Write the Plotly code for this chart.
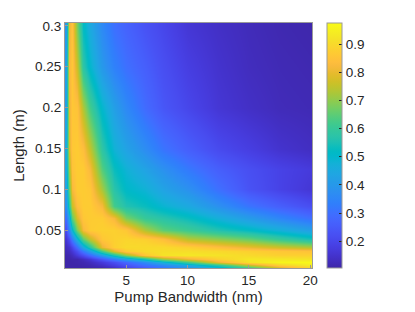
import plotly.graph_objects as go

# Pump bandwidth (nm) sample positions
bandwidth_nm = [0.1, 0.3, 0.6, 1.0, 1.5, 2.0, 3.0, 4.0, 5.0, 6.5, 8.0, 10.0, 12.5, 15.0, 17.5, 20.0]
# Crystal length (m) sample positions
length_m = [0.005, 0.008, 0.011, 0.015, 0.02, 0.025, 0.03, 0.04, 0.05, 0.065, 0.08, 0.1, 0.125, 0.15, 0.2, 0.25, 0.3]

# Values, one row per length
row_0005 = [0.105, 0.105, 0.105, 0.105, 0.105, 0.11, 0.12, 0.15, 0.2, 0.26, 0.32, 0.4, 0.5, 0.64, 0.8, 0.9]
row_0008 = [0.105, 0.105, 0.105, 0.105, 0.11, 0.115, 0.14, 0.18, 0.23, 0.3, 0.36, 0.45, 0.58, 0.75, 0.88, 0.94]
row_0011 = [0.105, 0.105, 0.105, 0.11, 0.115, 0.13, 0.17, 0.22, 0.28, 0.37, 0.48, 0.62, 0.8, 0.92, 0.96, 0.97]
row_0015 = [0.105, 0.105, 0.11, 0.11, 0.13, 0.16, 0.24, 0.33, 0.42, 0.55, 0.7, 0.8, 0.88, 0.93, 0.93, 0.92]
row_0020 = [0.11, 0.115, 0.13, 0.17, 0.22, 0.29, 0.42, 0.56, 0.7, 0.86, 0.92, 0.93, 0.92, 0.9, 0.88, 0.88]
row_0025 = [0.12, 0.13, 0.16, 0.22, 0.32, 0.42, 0.62, 0.78, 0.87, 0.9, 0.91, 0.91, 0.9, 0.88, 0.86, 0.85]
row_0030 = [0.13, 0.15, 0.2, 0.3, 0.45, 0.58, 0.8, 0.88, 0.9, 0.9, 0.9, 0.88, 0.84, 0.8, 0.76, 0.73]
row_0040 = [0.16, 0.22, 0.33, 0.48, 0.65, 0.75, 0.86, 0.88, 0.89, 0.88, 0.84, 0.74, 0.7, 0.66, 0.6, 0.55]
row_0050 = [0.22, 0.35, 0.5, 0.68, 0.82, 0.87, 0.88, 0.88, 0.86, 0.73, 0.65, 0.61, 0.56, 0.52, 0.47, 0.42]
row_0065 = [0.3, 0.45, 0.65, 0.78, 0.86, 0.87, 0.87, 0.82, 0.68, 0.6, 0.57, 0.53, 0.47, 0.41, 0.35, 0.3]
row_0080 = [0.38, 0.58, 0.76, 0.84, 0.87, 0.87, 0.82, 0.62, 0.56, 0.53, 0.49, 0.45, 0.38, 0.31, 0.26, 0.22]
row_0100 = [0.42, 0.66, 0.82, 0.87, 0.87, 0.86, 0.72, 0.57, 0.51, 0.48, 0.43, 0.38, 0.3, 0.23, 0.19, 0.16]
row_0125 = [0.45, 0.72, 0.85, 0.87, 0.87, 0.82, 0.64, 0.53, 0.48, 0.43, 0.38, 0.32, 0.26, 0.22, 0.19, 0.17]
row_0150 = [0.45, 0.78, 0.86, 0.87, 0.84, 0.75, 0.58, 0.48, 0.43, 0.37, 0.31, 0.26, 0.21, 0.18, 0.15, 0.135]
row_0200 = [0.42, 0.8, 0.86, 0.85, 0.73, 0.62, 0.5, 0.42, 0.36, 0.29, 0.24, 0.2, 0.16, 0.14, 0.125, 0.12]
row_0250 = [0.42, 0.82, 0.86, 0.76, 0.58, 0.5, 0.4, 0.34, 0.3, 0.26, 0.22, 0.18, 0.15, 0.13, 0.12, 0.115]
row_0300 = [0.4, 0.8, 0.85, 0.68, 0.52, 0.45, 0.36, 0.3, 0.27, 0.23, 0.2, 0.16, 0.14, 0.125, 0.115, 0.11]

x_ticks = [5, 10, 15, 20]
y_ticks = [0.05, 0.1, 0.15, 0.2, 0.25, 0.3]
y_ticklabels = ["0.05", "0.1", "0.15", "0.2", "0.25", "0.3"]
cbar_ticks = [0.2, 0.3, 0.4, 0.5, 0.6, 0.7, 0.8, 0.9]

z = [row_0005, row_0008, row_0011, row_0015, row_0020, row_0025, row_0030, row_0040,
     row_0050, row_0065, row_0080, row_0100, row_0125, row_0150, row_0200, row_0250, row_0300]

parula = [
    [0.2422, 0.1504, 0.6603], [0.2504, 0.1650, 0.7076], [0.2578, 0.1818, 0.7511], [0.2647, 0.1978, 0.7952],
    [0.2706, 0.2147, 0.8364], [0.2751, 0.2342, 0.8710], [0.2783, 0.2559, 0.8991], [0.2803, 0.2782, 0.9221],
    [0.2813, 0.3006, 0.9414], [0.2810, 0.3228, 0.9579], [0.2795, 0.3447, 0.9717], [0.2760, 0.3667, 0.9829],
    [0.2699, 0.3892, 0.9906], [0.2602, 0.4123, 0.9952], [0.2440, 0.4358, 0.9988], [0.2206, 0.4603, 0.9973],
    [0.1963, 0.4847, 0.9892], [0.1834, 0.5074, 0.9798], [0.1786, 0.5289, 0.9682], [0.1764, 0.5499, 0.9520],
    [0.1687, 0.5703, 0.9359], [0.1540, 0.5902, 0.9218], [0.1460, 0.6091, 0.9079], [0.1380, 0.6276, 0.8973],
    [0.1248, 0.6459, 0.8883], [0.1113, 0.6635, 0.8763], [0.0952, 0.6798, 0.8598], [0.0689, 0.6948, 0.8394],
    [0.0297, 0.7082, 0.8163], [0.0036, 0.7203, 0.7917], [0.0067, 0.7312, 0.7660], [0.0433, 0.7411, 0.7394],
    [0.0964, 0.7500, 0.7120], [0.1408, 0.7584, 0.6842], [0.1717, 0.7670, 0.6554], [0.1938, 0.7758, 0.6251],
    [0.2161, 0.7843, 0.5923], [0.2470, 0.7918, 0.5567], [0.2906, 0.7973, 0.5188], [0.3406, 0.8008, 0.4789],
    [0.3909, 0.8029, 0.4354], [0.4456, 0.8024, 0.3909], [0.5044, 0.7993, 0.3480], [0.5616, 0.7942, 0.3045],
    [0.6174, 0.7876, 0.2612], [0.6720, 0.7793, 0.2227], [0.7242, 0.7698, 0.1910], [0.7738, 0.7598, 0.1646],
    [0.8203, 0.7498, 0.1535], [0.8634, 0.7406, 0.1596], [0.9035, 0.7330, 0.1774], [0.9393, 0.7288, 0.2100],
    [0.9728, 0.7298, 0.2394], [0.9956, 0.7434, 0.2371], [0.9970, 0.7659, 0.2199], [0.9952, 0.7893, 0.2028],
    [0.9892, 0.8136, 0.1885], [0.9786, 0.8386, 0.1766], [0.9676, 0.8639, 0.1643], [0.9610, 0.8890, 0.1537],
    [0.9597, 0.9135, 0.1423], [0.9628, 0.9373, 0.1265], [0.9691, 0.9606, 0.1064], [0.9769, 0.9839, 0.0805],
]
n = len(parula)
colorscale = [[i / (n - 1), "rgb(%d,%d,%d)" % tuple(round(c * 255) for c in rgb)] for i, rgb in enumerate(parula)]

FONT = "Liberation Sans, Arial, sans-serif"
TXT = "#262626"
AX = "#9a9a9a"

fig = go.Figure(go.Heatmap(
    x=bandwidth_nm, y=length_m, z=z,
    zsmooth="best", colorscale=colorscale, zmin=0.105, zmax=0.975,
    colorbar=dict(
        x=1.0607, xanchor="left", xref="paper", y=0, yanchor="bottom", yref="paper", len=1, lenmode="fraction",
        thickness=15, thicknessmode="pixels", outlinecolor=AX, outlinewidth=1,
        tickvals=cbar_ticks, ticks="inside", ticklen=3, tickcolor=TXT,
        tickfont=dict(family=FONT, size=13.5, color=TXT), xpad=0, ypad=0,
    ),
))

# the page body adds an 8 px offset, so the figure is drawn 8 px smaller with shifted margins
fig.update_layout(
    width=407, height=304,
    margin=dict(l=57, r=103, t=15, b=44),
    paper_bgcolor="white", plot_bgcolor="white",
    font=dict(family=FONT, color=TXT),
    xaxis=dict(
        range=[0.0, 20.15], tickvals=x_ticks, ticks="inside", ticklen=3, tickcolor=AX,
        showline=True, linecolor=AX, linewidth=1, mirror=True, showgrid=False, zeroline=False,
        tickfont=dict(family=FONT, size=13.5, color=TXT), automargin=False,
        title=dict(text="Pump Bandwidth (nm)", font=dict(family=FONT, size=15, color=TXT), standoff=4),
    ),
    yaxis=dict(
        range=[0.004, 0.3035], tickvals=y_ticks, ticktext=y_ticklabels, ticks="inside", ticklen=3, tickcolor=AX,
        showline=True, linecolor=AX, linewidth=1, mirror=True, showgrid=False, zeroline=False,
        tickfont=dict(family=FONT, size=13.5, color=TXT), automargin=False,
        title=dict(text="Length (m)", font=dict(family=FONT, size=15, color=TXT), standoff=6),
    ),
)

fig.write_html("out.html")
